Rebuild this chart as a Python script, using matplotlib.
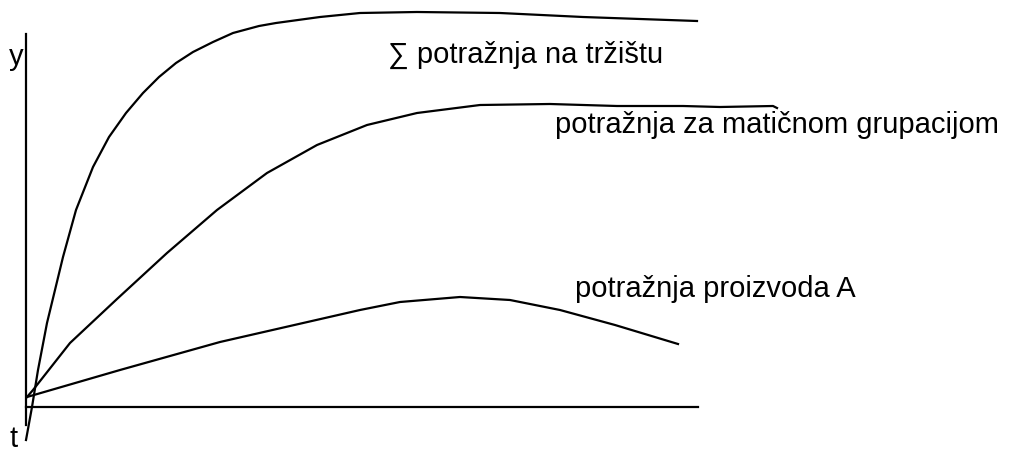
import matplotlib.pyplot as plt

# origin of the sketch axes sits at pixel (26, 407); units below are pixels from it
ORIGIN = (26, 407)

# sum of market demand
t_market = [0, 6, 12, 21, 37, 50, 67, 83, 100, 117, 133, 150, 167, 187, 207, 233, 250, 294, 334, 391, 474, 557, 671]
y_market = [-33, 0, 37, 84, 150, 197, 240, 270, 294, 314, 330, 344, 355, 365, 374, 381, 384, 390, 394, 395, 394, 390, 386]

# demand for the parent group
t_group = [1, 7, 44, 91, 141, 191, 241, 291, 341, 391, 454, 524, 591, 657, 694, 747, 751]
y_group = [10, 17, 64, 108, 154, 197, 234, 262, 282, 294, 302, 303, 301, 301, 300, 301, 299]

# demand for product A
t_prod = [1, 94, 194, 264, 334, 374, 434, 484, 534, 589, 652]
y_prod = [10, 37, 65, 81, 97, 105, 110, 107, 97, 82, 63]

labels = ['∑ potražnja na tržištu', 'potražnja za matičnom grupacijom', 'potražnja proizvoda A']
label_pos = [(362, 344), (529, 274), (549, 110)]

plt.rcParams['font.family'] = ['Liberation Sans', 'DejaVu Sans']

fig = plt.figure(figsize=(10.09, 4.5), dpi=100)
ax = fig.add_axes([0, 0, 1, 1])
ax.set_xlim(-ORIGIN[0], 1009 - ORIGIN[0])
ax.set_ylim(-(450 - ORIGIN[1]), ORIGIN[1])

for s in ['top', 'right']:
    ax.spines[s].set_visible(False)
ax.spines['left'].set_position(('data', 0))
ax.spines['bottom'].set_position(('data', 0))
ax.spines['left'].set_bounds(-18, 373)
ax.spines['bottom'].set_bounds(0, 672)
ax.spines['left'].set_linewidth(1.6)
ax.spines['bottom'].set_linewidth(1.6)
ax.set_xticks([])
ax.set_yticks([])

for t, y in [(t_market, y_market), (t_group, y_group), (t_prod, y_prod)]:
    ax.plot(t, y, color='black', linewidth=1.6, solid_joinstyle='round')

for txt, (x, y) in zip(labels, label_pos):
    ax.text(x, y, txt, fontsize=21, va='baseline', ha='left')

ax.text(-17, 342, 'y', fontsize=21, va='baseline', ha='left')
ax.text(-17, -40, 't', fontsize=21, va='baseline', ha='left')

fig.savefig('out.png', dpi=100)
